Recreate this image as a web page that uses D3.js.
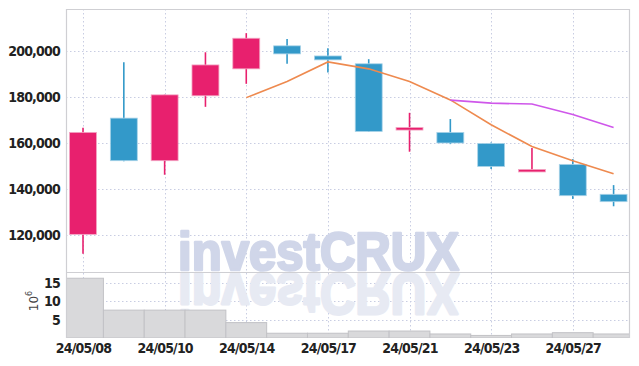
<!DOCTYPE html>
<html>
<head>
<meta charset="utf-8">
<script src="https://cdn.jsdelivr.net/npm/d3@7"></script>
<style>
  body { margin: 0; background: #fff; }
  svg { display: block; }
  .tick text { font-family: "DejaVu Sans Condensed", "DejaVu Sans", sans-serif; font-stretch: condensed; font-weight: bold; fill: #222; letter-spacing: -0.8px; }
  .wm { font-family: "Liberation Sans", Arial, sans-serif; font-weight: bold; stroke-linejoin: round; }
</style>
</head>
<body>
<svg id="chart" width="639" height="366"></svg>
<script>
// daily candles, 2024-05
const dates = ["24/05/08","24/05/09","24/05/10","24/05/13","24/05/14","24/05/16","24/05/17",
               "24/05/20","24/05/21","24/05/22","24/05/23","24/05/24","24/05/27","24/05/28"];
const opens  = [120300,170800,152300,180500,192200,202200,197800,194400,166400,164600,159800,148300,150700,137700];
const closes = [164600,152300,180900,193900,205500,198700,196100,165000,166700,160000,149800,148500,137100,134500];
const highs  = [166600,195100,181000,199400,207700,205200,201200,196400,173100,170400,160200,157800,153000,141700];
const lows   = [111900,152100,146200,175700,185700,194400,190600,164800,156200,159500,148700,148300,135700,132500];
const volumes = [16.3,7.6,7.6,7.6,4.2,1.3,1.3,1.9,1.9,1.1,0.7,1.1,1.45,1.1]; // x10^6
// moving averages (null = not drawn)
const ma5  = [null,null,null,null,179700,186700,195200,192200,186700,178700,167900,158500,152300,146600];
const ma10 = [null,null,null,null,null,null,null,null,null,178600,177300,176900,172400,166700];
const priceTicks = [120000,140000,160000,180000,200000];
const volTicks = [5,10,15];
const labelIdx = [0,2,4,6,8,10,12];

const svg = d3.select("#chart");
const pL = 66, pR = 630, pT = 9, pSep = 272, pB = 338;

const x = d3.scaleLinear().domain([-0.5, 13.5]).range([62.6, 634]);
const step = x(1) - x(0);
const y = d3.scaleLinear().domain([103950, 218200]).range([pSep, pT]);
const yv = d3.scaleLinear().domain([0, 18]).range([pB, pSep]);

const RED = "#e8206e", BLUE = "#3399c9";

svg.append("defs").append("clipPath").attr("id", "clip")
  .append("rect").attr("x", pL).attr("y", pT).attr("width", pR - pL).attr("height", pB - pT);

// grid
const grid = svg.append("g").attr("stroke", "#c8cde2").attr("stroke-dasharray", "1.5,2.5").attr("stroke-width", 1);
grid.selectAll(".hp").data(priceTicks).join("line")
  .attr("x1", pL).attr("x2", pR).attr("y1", d => Math.round(y(d)) + 0.5).attr("y2", d => Math.round(y(d)) + 0.5);
grid.selectAll(".hv").data(volTicks).join("line")
  .attr("x1", pL).attr("x2", pR).attr("y1", d => Math.round(yv(d)) + 0.5).attr("y2", d => Math.round(yv(d)) + 0.5);
grid.selectAll(".v").data(labelIdx).join("line")
  .attr("x1", d => Math.round(x(d)) + 0.5).attr("x2", d => Math.round(x(d)) + 0.5).attr("y1", pT).attr("y2", pB);

// watermark with reflection (stroke thickens the letters)
const wm = svg.append("g");
wm.append("text").attr("class", "wm").attr("x", 178).attr("y", 270).attr("font-size", 53)
  .attr("textLength", 281).attr("lengthAdjust", "spacingAndGlyphs")
  .attr("fill", "#d0d6e9").attr("stroke", "#d0d6e9").attr("stroke-width", 2.6).text("investCRUX");
wm.append("text").attr("class", "wm").attr("transform", "translate(0,274) scale(1,-1.08) translate(0,-274)")
  .attr("x", 178).attr("y", 274).attr("font-size", 53)
  .attr("textLength", 281).attr("lengthAdjust", "spacingAndGlyphs")
  .attr("fill", "#e7eaf3").attr("stroke", "#e7eaf3").attr("stroke-width", 2.6).text("investCRUX");

// volume bars
svg.append("g").attr("clip-path", "url(#clip)")
  .selectAll("rect").data(volumes).join("rect")
  .attr("x", (d, i) => x(i - 0.5)).attr("width", step)
  .attr("y", d => yv(d)).attr("height", d => pB - yv(d))
  .attr("fill", "#d9d9db").attr("stroke", "#c2c2c6").attr("stroke-width", 1);

// candles
const idx = d3.range(dates.length);
const candles = svg.append("g").attr("clip-path", "url(#clip)");
candles.selectAll(".wick").data(idx).join("line")
  .attr("x1", i => x(i)).attr("x2", i => x(i))
  .attr("y1", i => y(highs[i])).attr("y2", i => y(lows[i]))
  .attr("stroke", i => closes[i] >= opens[i] ? RED : BLUE).attr("stroke-width", 1.6);
const bw = step * 0.66;
candles.selectAll(".body").data(idx).join("rect")
  .attr("x", i => x(i) - bw / 2).attr("width", bw)
  .attr("y", i => y(Math.max(opens[i], closes[i])))
  .attr("height", i => Math.max(2.5, Math.abs(y(opens[i]) - y(closes[i]))))
  .attr("fill", i => closes[i] >= opens[i] ? RED : BLUE)
  .attr("stroke", i => closes[i] >= opens[i] ? "#f3a6c4" : "#a9d3e8").attr("stroke-width", 0.8);

// moving averages
const line = d3.line().defined(d => d[1] != null).x(d => x(d[0])).y(d => y(d[1]));
svg.append("path").datum(ma5.map((v, i) => [i, v]))
  .attr("d", line).attr("fill", "none").attr("stroke", "#ee8a4f").attr("stroke-width", 1.6);
svg.append("path").datum(ma10.map((v, i) => [i, v]))
  .attr("d", line).attr("fill", "none").attr("stroke", "#cf57ea").attr("stroke-width", 1.6);

// frame
const frame = svg.append("g").attr("stroke", "#cfcfd3").attr("stroke-width", 1.2).attr("fill", "none");
frame.append("line").attr("x1", pL).attr("x2", pR).attr("y1", pT + 0.5).attr("y2", pT + 0.5);
frame.append("line").attr("x1", pL).attr("x2", pR).attr("y1", pSep + 0.5).attr("y2", pSep + 0.5);
frame.append("line").attr("x1", pL + 0.5).attr("x2", pL + 0.5).attr("y1", pT).attr("y2", pB);
frame.append("line").attr("x1", pR - 0.5).attr("x2", pR - 0.5).attr("y1", pT).attr("y2", pB);

// axes
const yAxis = svg.append("g").attr("transform", `translate(${pL},0)`)
  .call(d3.axisLeft(y).tickValues(priceTicks).tickFormat(d3.format(",")).tickSize(0).tickPadding(6));
yAxis.select(".domain").remove();
yAxis.selectAll("text").attr("font-size", 14);

const vAxis = svg.append("g").attr("transform", `translate(${pL},0)`)
  .call(d3.axisLeft(yv).tickValues(volTicks).tickSize(0).tickPadding(6));
vAxis.select(".domain").remove();
vAxis.selectAll("text").attr("font-size", 14);

const xAxis = svg.append("g").attr("transform", `translate(0,${pB})`)
  .call(d3.axisBottom(x).tickValues(labelIdx).tickFormat(i => dates[i]).tickSize(0).tickPadding(5));
xAxis.select(".domain").remove();
xAxis.selectAll("text").attr("font-size", 14);

const vl = svg.append("text").attr("transform", "translate(38,301) rotate(-90)")
  .attr("text-anchor", "middle").attr("font-family", "DejaVu Sans, sans-serif").attr("font-size", 12).attr("fill", "#444");
vl.append("tspan").text("10");
vl.append("tspan").attr("font-size", 8).attr("dy", -6).text("6");
</script>
</body>
</html>
